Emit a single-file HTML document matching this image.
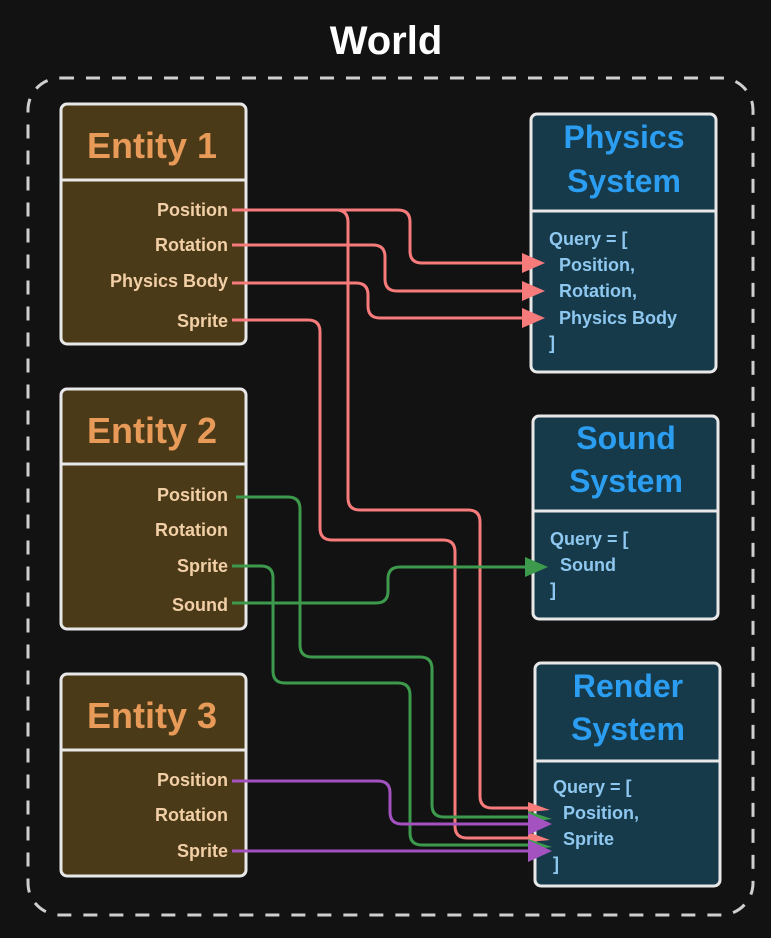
<!DOCTYPE html>
<html><head><meta charset="utf-8"><style>
html,body{margin:0;padding:0;background:#121212;}
svg{display:block;}
text{font-family:"Liberation Sans Narrow","Liberation Sans",sans-serif;font-weight:bold;}
</style></head><body>
<svg width="771" height="938" viewBox="0 0 771 938" xmlns="http://www.w3.org/2000/svg">
<defs>
<marker id="ar" markerWidth="10" markerHeight="10" refX="9" refY="5" orient="auto" markerUnits="userSpaceOnUse"><path d="M0,0 L10,5 L0,10z" fill="#f77b7b"/></marker>
</defs>
<rect width="771" height="938" fill="#121212"/>
<text x="386" y="54" text-anchor="middle" fill="#ffffff" font-size="40">World</text>
<rect x="28" y="78" width="725" height="837" rx="32" fill="none" stroke="#cfcfcf" stroke-width="3" stroke-dasharray="14 12"/>

<!-- Entity boxes -->
<g stroke="#e8e8e8" stroke-width="3" fill="#4a3a18">
<rect x="61" y="104" width="185" height="240" rx="6"/>
<line x1="61" y1="180" x2="246" y2="180"/>
<rect x="61" y="389" width="185" height="240" rx="6"/>
<line x1="61" y1="464" x2="246" y2="464"/>
<rect x="61" y="674" width="185" height="202" rx="6"/>
<line x1="61" y1="750" x2="246" y2="750"/>
</g>
<g fill="#e89a58" font-size="36" text-anchor="middle">
<text x="152" y="158">Entity 1</text>
<text x="152" y="443">Entity 2</text>
<text x="152" y="728">Entity 3</text>
</g>
<g fill="#f2cfa6" font-size="18" text-anchor="end">
<text x="228" y="216">Position</text>
<text x="228" y="251">Rotation</text>
<text x="228" y="287">Physics Body</text>
<text x="228" y="327">Sprite</text>
<text x="228" y="501">Position</text>
<text x="228" y="536">Rotation</text>
<text x="228" y="572">Sprite</text>
<text x="228" y="611">Sound</text>
<text x="228" y="786">Position</text>
<text x="228" y="821">Rotation</text>
<text x="228" y="857">Sprite</text>
</g>

<!-- System boxes -->
<g stroke="#e8e8e8" stroke-width="3" fill="#173a4a">
<rect x="531" y="114" width="185" height="258" rx="6"/>
<line x1="531" y1="211" x2="716" y2="211"/>
<rect x="533" y="416" width="185" height="203" rx="6"/>
<line x1="533" y1="511" x2="718" y2="511"/>
<rect x="535" y="663" width="185" height="223" rx="6"/>
<line x1="535" y1="761" x2="720" y2="761"/>
</g>
<g fill="#2b9ef2" font-size="32" text-anchor="middle">
<text x="624" y="148">Physics</text>
<text x="624" y="192">System</text>
<text x="626" y="449">Sound</text>
<text x="626" y="492">System</text>
<text x="628" y="697">Render</text>
<text x="628" y="740">System</text>
</g>
<g fill="#8ec8f0" font-size="18">
<text x="549" y="245">Query = [</text>
<text x="559" y="271">Position,</text>
<text x="559" y="297">Rotation,</text>
<text x="559" y="324">Physics Body</text>
<text x="549" y="349">]</text>
<text x="550" y="545">Query = [</text>
<text x="560" y="571">Sound</text>
<text x="550" y="596">]</text>
<text x="553" y="793">Query = [</text>
<text x="563" y="819">Position,</text>
<text x="563" y="845">Sprite</text>
<text x="553" y="870">]</text>
</g>

<!-- connectors -->
<g fill="none" stroke-width="3">
<g stroke="#f77b7b">
<path d="M232,210 H398 Q410,210 410,222 V251 Q410,263 422,263 H525"/>
<path d="M232,245 H373 Q385,245 385,257 V279 Q385,291 397,291 H525"/>
<path d="M232,283 H356 Q368,283 368,295 V306 Q368,318 380,318 H525"/>
<path d="M232,210 H336 Q348,210 348,222 V498 Q348,510 360,510 H468 Q480,510 480,522 V796 Q480,808 492,808 H530"/>
<path d="M232,320 H308 Q320,320 320,332 V528 Q320,540 332,540 H443 Q455,540 455,552 V826 Q455,838 467,838 H530"/>
</g>
<g stroke="#3d9a4d">
<path d="M236,497 H288 Q300,497 300,509 V645 Q300,657 312,657 H420 Q432,657 432,669 V805 Q432,817 444,817 H530"/>
<path d="M232,566 H261 Q273,566 273,578 V671 Q273,683 285,683 H398 Q410,683 410,695 V833 Q410,845 422,845 H530"/>
<path d="M232,603 H376 Q388,603 388,591 V579 Q388,567 400,567 H530"/>
</g>
<g stroke="#a352c0">
<path d="M232,781 H378 Q390,781 390,793 V812 Q390,824 402,824 H530"/>
<path d="M232,851 H530"/>
</g>
</g>
<!-- arrowheads -->
<g fill="#f77b7b">
<path d="M522,253 L545,263 L522,273z"/>
<path d="M522,281 L545,291 L522,301z"/>
<path d="M522,308 L545,318 L522,328z"/>
<path d="M528,802 L550,810 L528,812z"/>
<path d="M528,832 L550,840 L528,842z"/>
</g>
<path d="M525,557 L548,567 L525,577z" fill="#3d9a4d"/>
<g fill="#3d9a4d">
<path d="M528,811 L552,819 L528,822z"/>
<path d="M528,839 L552,847 L528,850z"/>
</g>
<g fill="#a352c0">
<path d="M528,813 L552,824 L528,835z"/>
<path d="M528,840 L552,851 L528,862z"/>
</g>
</svg>
</body></html>
